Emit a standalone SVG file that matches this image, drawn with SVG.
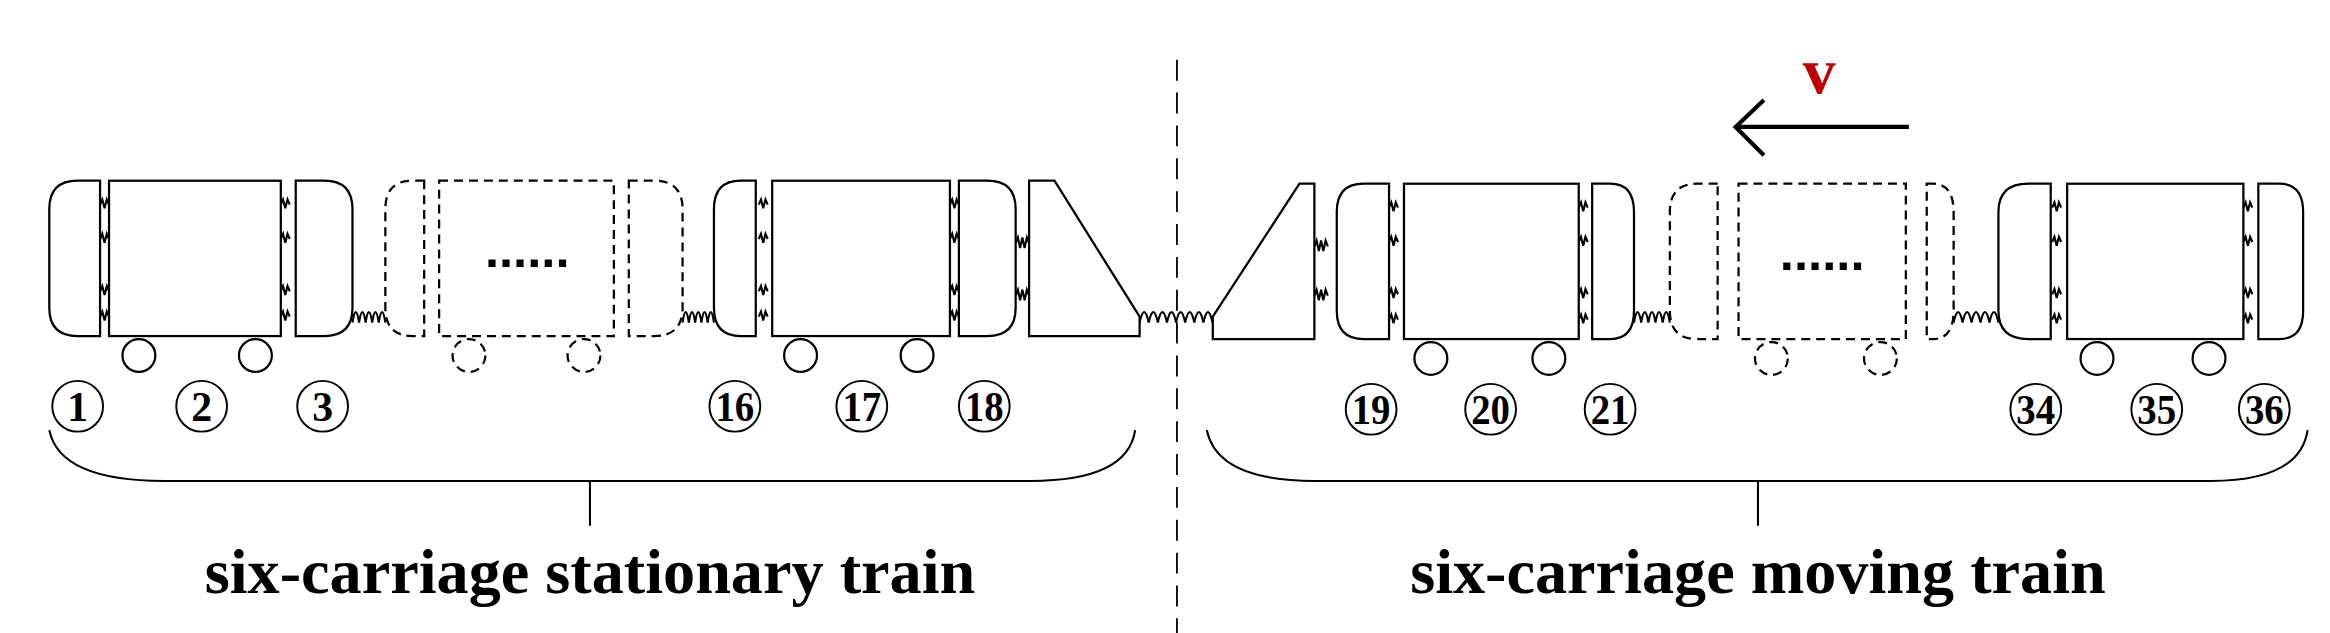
<svg xmlns="http://www.w3.org/2000/svg" xmlns:xlink="http://www.w3.org/1999/xlink" width="2330" height="633" viewBox="0 0 2330 633">
<style>
.s{fill:#fff;stroke:#000;stroke-width:1.5}
.d{fill:#fff;stroke:#000;stroke-width:1.5;stroke-dasharray:6 4}
.w{fill:none;stroke:#000;stroke-width:1.4}
.n{font-family:"Liberation Serif",serif;font-weight:bold;font-size:28px;text-anchor:middle}
.t{font-family:"Liberation Serif",serif;font-weight:bold;font-size:43px;text-anchor:middle}
.dots{font-family:"Liberation Sans",sans-serif;font-weight:bold;font-size:34px;text-anchor:middle}
</style>
<defs>
<path id="sp" class="w" d="M0,0 l1.5,-3.5 l1.5,6 l1.5,-6 l1.5,3.5"/>
<path id="sp9" class="w" d="M0,0 l1.5,-4 l1.5,7 l1.5,-7 l1.5,7 l1.5,-7 l1.5,4"/>
</defs>
<rect width="2330" height="633" fill="#fff"/>
<g transform="scale(1.4936)">
<g id="connectors">
<line x1="788" y1="40" x2="788" y2="424" stroke="#000" stroke-width="1.2" stroke-dasharray="14 8"/>
<path class="w" d="M236,216 q2.2,-14 4.4,0 q2.2,-14 4.4,0 q2.2,-14 4.4,0 q2.2,-14 4.4,0 q2.2,-14 4.4,0"/>
<path class="w" d="M457,216 q2.1,-14 4.2,0 q2.1,-14 4.2,0 q2.1,-14 4.2,0 q2.1,-14 4.2,0 q2.1,-14 4.2,0"/>
<path class="w" d="M763,216 q3.1,-14 6.1,0 q3.1,-14 6.1,0 q3.1,-14 6.1,0 q3.1,-14 6.1,0 q3.1,-14 6.1,0 q3.1,-14 6.1,0 q3.1,-14 6.1,0 q3.1,-14 6.1,0"/>
<path class="w" d="M1094,216 q2.4,-14 4.8,0 q2.4,-14 4.8,0 q2.4,-14 4.8,0 q2.4,-14 4.8,0 q2.4,-14 4.8,0"/>
<path class="w" d="M1308,216 q3,-14 6,0 q3,-14 6,0 q3,-14 6,0 q3,-14 6,0 q3,-14 6,0"/>
<g>
<use xlink:href="#sp" x="67" y="137"/><use xlink:href="#sp" x="67" y="160"/><use xlink:href="#sp" x="67" y="195"/><use xlink:href="#sp" x="67" y="212"/>
<use xlink:href="#sp" x="188" y="137"/><use xlink:href="#sp" x="188" y="160"/><use xlink:href="#sp" x="188" y="195"/><use xlink:href="#sp" x="188" y="212"/>
<use xlink:href="#sp" x="508" y="137"/><use xlink:href="#sp" x="508" y="160"/><use xlink:href="#sp" x="508" y="195"/><use xlink:href="#sp" x="508" y="212"/>
<use xlink:href="#sp" x="636" y="137"/><use xlink:href="#sp" x="636" y="160"/><use xlink:href="#sp" x="636" y="195"/><use xlink:href="#sp" x="636" y="212"/>
<use xlink:href="#sp9" x="680" y="163"/><use xlink:href="#sp9" x="680" y="198"/>
<use xlink:href="#sp9" x="880" y="165"/><use xlink:href="#sp9" x="880" y="198"/>
<use xlink:href="#sp" x="930" y="139"/><use xlink:href="#sp" x="930" y="162"/><use xlink:href="#sp" x="930" y="197"/><use xlink:href="#sp" x="930" y="214"/>
<use xlink:href="#sp" x="1057" y="139"/><use xlink:href="#sp" x="1057" y="162"/><use xlink:href="#sp" x="1057" y="197"/><use xlink:href="#sp" x="1057" y="214"/>
<use xlink:href="#sp" x="1374" y="139"/><use xlink:href="#sp" x="1374" y="162"/><use xlink:href="#sp" x="1374" y="197"/><use xlink:href="#sp" x="1374" y="214"/>
<use xlink:href="#sp" x="1502" y="139"/><use xlink:href="#sp" x="1502" y="162"/><use xlink:href="#sp" x="1502" y="197"/><use xlink:href="#sp" x="1502" y="214"/>
</g>
<path d="M1278,85 H1162 M1181,67 L1162,85 L1181,104" fill="none" stroke="#000" stroke-width="2.8"/>
<path class="w" stroke-width="1.7" d="M33,288 Q40,322 110,322 H690 Q755,322 760,288 M395,322 V352"/>
<path class="w" stroke-width="1.7" d="M808,288 Q815,322 880,322 H1480 Q1540,322 1545,288 M1177,322 V352"/>
</g>
<g id="stationary-train">
<path class="s" d="M67,121 H52 Q33,121 33,140 V206 Q33,225 52,225 H67 Z"/>
<rect class="s" x="73" y="121" width="115" height="104"/>
<path class="s" d="M198,121 H217 Q236,121 236,140 V206 Q236,225 217,225 H198 Z"/>
<circle class="s" cx="93" cy="238" r="11"/><circle class="s" cx="171" cy="238" r="11"/>
<path class="d" d="M284,121 H276 Q258,121 258,140 V206 Q258,225 276,225 H284 Z"/>
<rect class="d" x="294" y="121" width="117" height="104"/>
<path class="d" d="M421,121 H438 Q457,121 457,140 V206 Q457,225 438,225 H421 Z"/>
<circle class="d" cx="314" cy="238" r="11"/><circle class="d" cx="391" cy="238" r="11"/>
<text class="dots" x="353" y="179">......</text>
<path class="s" d="M506,121 H496 Q478,121 478,140 V206 Q478,225 496,225 H506 Z"/>
<rect class="s" x="517" y="121" width="119" height="104"/>
<path class="s" d="M642,121 H661 Q680,121 680,140 V206 Q680,225 661,225 H642 Z"/>
<circle class="s" cx="536" cy="238" r="11"/><circle class="s" cx="614" cy="238" r="11"/>
<path class="s" d="M689,121 H706 L763,212 V225 H689 Z"/>
</g>
<g id="moving-train">
<path class="s" d="M812,212 L870,123 H880 V227 H812 Z"/>
<path class="s" d="M930,123 H913 Q895,123 895,142 V208 Q895,227 913,227 H930 Z"/>
<rect class="s" x="940" y="123" width="117" height="104"/>
<path class="s" d="M1066,123 H1078 Q1094,123 1094,142 V208 Q1094,227 1078,227 H1066 Z"/>
<circle class="s" cx="958" cy="240" r="11"/><circle class="s" cx="1037" cy="240" r="11"/>
<path class="d" d="M1150,123 H1136 Q1118,123 1118,142 V208 Q1118,227 1136,227 H1150 Z"/>
<rect class="d" x="1164" y="123" width="112" height="104"/>
<path class="d" d="M1290,123 H1294 Q1308,123 1308,142 V208 Q1308,227 1294,227 H1290 Z"/>
<circle class="d" cx="1186" cy="240" r="11"/><circle class="d" cx="1259" cy="240" r="11"/>
<text class="dots" x="1220" y="181">......</text>
<path class="s" d="M1373,123 H1358 Q1338,123 1338,142 V208 Q1338,227 1358,227 H1373 Z"/>
<rect class="s" x="1384" y="123" width="118" height="104"/>
<path class="s" d="M1512,123 H1526 Q1542,123 1542,142 V208 Q1542,227 1526,227 H1512 Z"/>
<circle class="s" cx="1404" cy="240" r="11"/><circle class="s" cx="1479" cy="240" r="11"/>
</g>
<g id="labels">
<g fill="none" stroke="#000" stroke-width="1.3">
<ellipse cx="52" cy="272" rx="17" ry="17"/><ellipse cx="135" cy="272" rx="17" ry="17"/><ellipse cx="216" cy="272" rx="17" ry="17"/>
<ellipse cx="492" cy="272" rx="17" ry="17"/><ellipse cx="577" cy="272" rx="17" ry="17"/><ellipse cx="659" cy="272" rx="17" ry="17"/>
<ellipse cx="918" cy="274" rx="17" ry="17"/><ellipse cx="998" cy="274" rx="17" ry="17"/><ellipse cx="1078" cy="274" rx="17" ry="17"/>
<ellipse cx="1363" cy="274" rx="17" ry="17"/><ellipse cx="1444" cy="274" rx="17" ry="17"/><ellipse cx="1516" cy="274" rx="17" ry="17"/>
</g>
<text class="n" x="52" y="282">1</text><text class="n" x="135" y="282">2</text><text class="n" x="216" y="282">3</text>
<text class="n" x="492" y="282" textLength="26" lengthAdjust="spacingAndGlyphs">16</text><text class="n" x="577" y="282" textLength="26" lengthAdjust="spacingAndGlyphs">17</text><text class="n" x="659" y="282" textLength="26" lengthAdjust="spacingAndGlyphs">18</text>
<text class="n" x="918" y="284" textLength="26" lengthAdjust="spacingAndGlyphs">19</text><text class="n" x="998" y="284" textLength="26" lengthAdjust="spacingAndGlyphs">20</text><text class="n" x="1078" y="284" textLength="26" lengthAdjust="spacingAndGlyphs">21</text>
<text class="n" x="1363" y="284" textLength="26" lengthAdjust="spacingAndGlyphs">34</text><text class="n" x="1444" y="284" textLength="26" lengthAdjust="spacingAndGlyphs">35</text><text class="n" x="1516" y="284" textLength="26" lengthAdjust="spacingAndGlyphs">36</text>
<text x="1218" y="62" style="font-family:'Liberation Serif',serif;font-weight:bold;font-size:44px;fill:#c00000;text-anchor:middle">v</text>
<text class="t" x="395" y="397">six-carriage stationary train</text>
<text class="t" x="1177" y="397">six-carriage moving train</text>
</g>
</g>
</svg>
